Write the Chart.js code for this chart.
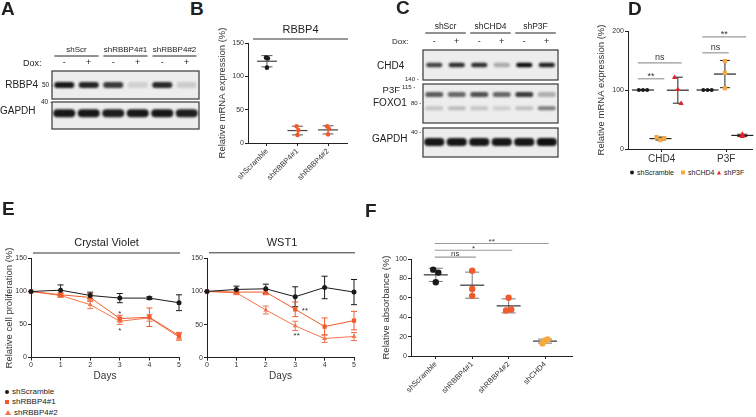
<!DOCTYPE html>
<html>
<head>
<meta charset="utf-8">
<title>RBBP4 / CHD4 figure</title>
<script src="https://cdn.jsdelivr.net/npm/chart.js"></script>
<style>
  body { margin: 0; background: #fff; }
  #fig { position: relative; width: 756px; height: 417px; overflow: hidden; font-family: "Liberation Sans", Arial, sans-serif; color: #222; }
  #fig canvas { position: absolute; }
  .t { position: absolute; white-space: nowrap; line-height: 1.15; }
  .lg { position: absolute; white-space: nowrap; display: flex; align-items: center; line-height: 1; }
  .mk { display: inline-block; margin-right: 3px; }
</style>
</head>
<body>
<div id="fig"></div>
<script>
// ---------- data ----------
// western blots (band darkness per lane, 0..1)
const doxSigns = ["-", "+", "-", "+", "-", "+"];
const blotGroupsA = ["shScr", "shRBBP4#1", "shRBBP4#2"];
const rbbp4Band = [0.95, 0.9, 0.8, 0.12, 0.88, 0.15];
const gapdhBandA = [0.95, 0.95, 0.92, 0.95, 0.95, 0.92];
const blotGroupsC = ["shScr", "shCHD4", "shP3F"];
const chd4Band = [0.75, 0.85, 0.85, 0.3, 1, 0.9];
const p3fBand = [0.65, 0.6, 0.7, 0.6, 0.8, 0.28];
const foxo1Band = [0.18, 0.22, 0.18, 0.14, 0.2, 0.5];
const gapdhBandC = [0.95, 0.95, 0.95, 0.95, 0.95, 0.98];

// B: RBBP4 mRNA
const bCats = ["shScramble", "shRBBP4#1", "shRBBP4#2"];
const bValues = [[128, 127, 113], [25, 19, 12], [25, 21, 13]];
const bTicks = [0, 50, 100, 150];

// D: CHD4 / P3F mRNA
const dCats = ["CHD4", "P3F"];
const dSeries = ["shScramble", "shCHD4", "shP3F"];
const dScramble = [[100, 100, 100], [100, 100, 100]];
const dShCHD4 = [[20, 18, 15], [103, 149, 129]];
const dShP3F = [[121, 77, 101], [25, 23, 21]];
const dTicks = [0, 100, 200];
const dSig = [
  { cat: 0, a: 0, b: 1, y: 119, text: "**" },
  { cat: 0, a: 0, b: 2, y: 146, text: "ns" },
  { cat: 1, a: 0, b: 1, y: 163, text: "ns" },
  { cat: 1, a: 0, b: 2, y: 190, text: "**" },
];

// E: proliferation
const days = [0, 1, 2, 3, 4, 5];
const eTicks = [0, 50, 100, 150];
const eSeries = ["shScramble", "shRBBP4#1", "shRBBP4#2"];
const cvScramble = [100, 102, 94, 90, 90, 83];
const cvScrambleSd = [0, 8, 5, 7, 2, 12];
const cvSh1 = [100, 95, 91, 59, 61, 33];
const cvSh1Sd = [0, 3, 6, 5, 14, 5];
const cvSh2 = [100, 94, 80, 55, 60, 31];
const cvSh2Sd = [0, 3, 6, 5, 5, 5];
const cvStars = [{ x: 3, y: 70, text: "*" }, { x: 3, y: 44, text: "*" }];
const wstScramble = [100, 103, 104, 92, 106, 99];
const wstScrambleSd = [0, 5, 7, 15, 17, 19];
const wstSh1 = [100, 99, 99, 73, 47, 56];
const wstSh1Sd = [0, 3, 4, 11, 13, 14];
const wstSh2 = [100, 98, 72, 48, 29, 32];
const wstSh2Sd = [0, 3, 6, 7, 6, 6];
const wstStars = [{ x: 3.33, y: 74, text: "**" }, { x: 3.05, y: 36, text: "**" }];

// F: absorbance
const fCats = ["shScramble", "shRBBP4#1", "shRBBP4#2", "shCHD4"];
const fValues = [[89, 86, 76], [88, 69, 62], [47, 48, 60], [13, 17, 16]];
const fTicks = [0, 20, 40, 60, 80, 100];
const fSig = [
  { a: 0, b: 1, y: 102, text: "ns" },
  { a: 0, b: 2, y: 109, text: "*" },
  { a: 0, b: 3, y: 116, text: "**" },
];

// ---------- setup ----------
const FONT = '"Liberation Sans", Arial, sans-serif';
const INK = "#222";
const BLACK = "#1a1a1a", ORANGE = "#f15a2b", ORANGE2 = "#f3764d", YELLOW = "#f8a93e", RED = "#e42229";

Chart.defaults.font.family = FONT;
Chart.defaults.font.size = 7;
Chart.defaults.color = "#333";
Chart.defaults.animation = false;
Chart.defaults.plugins.legend.display = false;
Chart.defaults.plugins.tooltip.enabled = false;

const fig = document.getElementById("fig");
const spread = [-1, 1, 0];

// box = canvas [x, y, w, h] on the page, area = wanted chart area on the page
function makeChart(box, area, config) {
  const [x, y, w, h] = box;
  const canvas = document.createElement("canvas");
  canvas.width = w;
  canvas.height = h;
  canvas.style.cssText = `left:${x}px;top:${y}px;width:${w}px;height:${h}px`;
  fig.appendChild(canvas);
  const o = config.options;
  o.responsive = false;
  o.layout = { padding: { left: 0, top: area.t - y, right: x + w - area.r, bottom: 0 } };
  if (o.scales.y.display !== false) o.scales.y.afterFit = (s) => { s.width = area.l - x; };
  else o.layout.padding.left = area.l - x;
  if (o.scales.x.display !== false) o.scales.x.afterFit = (s) => { s.height = y + h - area.b; };
  else o.layout.padding.bottom = y + h - area.b;
  return new Chart(canvas, config);
}

function txt(s, x, y, size, anchor, extra) {
  const d = document.createElement("div");
  d.className = "t";
  d.textContent = s;
  const tx = anchor === "r" ? "-100%" : anchor === "c" ? "-50%" : "0";
  d.style.cssText = `left:${x}px;top:${y}px;font-size:${size}px;transform:translate(${tx},-50%);${extra || ""}`;
  fig.appendChild(d);
}

function marker(shape, color, s) {
  if (shape === "triangle")
    return `<span class="mk" style="width:0;height:0;border-left:${s / 2 + 0.5}px solid transparent;border-right:${s / 2 + 0.5}px solid transparent;border-bottom:${s}px solid ${color}"></span>`;
  const r = shape === "circle" ? "50%" : "0";
  return `<span class="mk" style="width:${s}px;height:${s}px;background:${color};border-radius:${r}"></span>`;
}

function legendItem(x, y, shape, color, label, size, ms) {
  const d = document.createElement("div");
  d.className = "lg";
  d.style.cssText = `left:${x}px;top:${y}px;font-size:${size}px;transform:translateY(-50%)`;
  d.innerHTML = marker(shape, color, ms) + `<span>${label}</span>`;
  fig.appendChild(d);
}

function valueAxis(ticks, title) {
  return {
    type: "linear",
    min: ticks[0],
    max: ticks[ticks.length - 1],
    afterBuildTicks: (s) => { s.ticks = ticks.map((v) => ({ value: v })); },
    border: { color: INK, width: 1 },
    grid: { drawOnChartArea: false, color: INK, tickLength: 3 },
    ticks: { padding: 1, font: { size: 7 } },
    title: { display: !!title, text: title || "", padding: 0, font: { size: 9.5 } },
  };
}

function catAxis(cats, min, max, rot, size) {
  return {
    type: "linear",
    min,
    max,
    afterBuildTicks: (s) => { s.ticks = cats.map((c, i) => ({ value: i })); },
    border: { color: INK, width: 1 },
    grid: { drawOnChartArea: false, color: INK, tickLength: 3 },
    ticks: { autoSkip: false, minRotation: rot, maxRotation: rot, padding: 1, font: { size }, callback: (v) => cats[v] },
  };
}

// ---------- plugins ----------
const blot = {
  id: "blot",
  afterDraw(chart, args, o) {
    const { ctx, chartArea: a, scales: { x, y } } = chart;
    const lane = x.getPixelForValue(1) - x.getPixelForValue(0);
    ctx.save();
    ctx.fillStyle = "#ededed";
    ctx.fillRect(a.left, a.top, a.width, a.height);
    o.bands.forEach((b) => {
      b.values.forEach((v, i) => {
        const cx = x.getPixelForValue(i), cy = y.getPixelForValue(b.row);
        const w = b.width * lane;
        ctx.filter = "blur(1.2px)";
        ctx.fillStyle = `rgba(12,12,12,${v})`;
        ctx.beginPath();
        ctx.roundRect(cx - w / 2, cy - b.height / 2, w, b.height, b.height / 2);
        ctx.fill();
      });
    });
    ctx.filter = "none";
    ctx.strokeStyle = "#454545";
    ctx.lineWidth = 1.3;
    ctx.strokeRect(a.left, a.top, a.width, a.height);
    if (o.header) {
      const hd = o.header;
      ctx.fillStyle = "#222";
      ctx.textAlign = "center";
      ctx.textBaseline = "middle";
      hd.groups.forEach((g, k) => {
        const x1 = x.getPixelForValue(2 * k - 0.4), x2 = x.getPixelForValue(2 * k + 1.4);
        ctx.font = `${hd.groupSize}px ${FONT}`;
        ctx.fillText(g, (x1 + x2) / 2, a.top - hd.groupGap);
        ctx.strokeStyle = "#222";
        ctx.lineWidth = 1;
        ctx.beginPath();
        ctx.moveTo(x1, a.top - hd.lineGap);
        ctx.lineTo(x2, a.top - hd.lineGap);
        ctx.stroke();
      });
      ctx.font = `${hd.signSize}px ${FONT}`;
      hd.signs.forEach((s, i) => ctx.fillText(s, x.getPixelForValue(i), a.top - hd.signGap));
    }
    ctx.restore();
  },
};

const panelTitle = {
  id: "panelTitle",
  afterDraw(chart, args, o) {
    const { ctx, chartArea: a } = chart;
    const x1 = a.left + o.inset, x2 = a.right + 1;
    ctx.save();
    ctx.strokeStyle = "#333";
    ctx.lineWidth = 1;
    ctx.beginPath();
    ctx.moveTo(x1, a.top - o.lineGap);
    ctx.lineTo(x2, a.top - o.lineGap);
    ctx.stroke();
    ctx.fillStyle = "#222";
    ctx.font = `11px ${FONT}`;
    ctx.textAlign = "center";
    ctx.textBaseline = "middle";
    ctx.fillText(o.text, (x1 + x2) / 2, a.top - o.textGap);
    ctx.restore();
  },
};

const meanSd = {
  id: "meanSd",
  beforeDatasetsDraw(chart, args, o) {
    const { ctx, scales: { x, y } } = chart;
    chart.data.datasets.forEach((ds) => {
      if (ds.centre === undefined) return;
      const vals = ds.data.map((p) => p.y);
      const m = vals.reduce((s, v) => s + v, 0) / vals.length;
      const sd = Math.sqrt(vals.reduce((s, v) => s + (v - m) ** 2, 0) / (vals.length - 1));
      const cx = x.getPixelForValue(ds.centre);
      const ym = y.getPixelForValue(m), y1 = y.getPixelForValue(m + sd), y2 = y.getPixelForValue(m - sd);
      ctx.save();
      ctx.strokeStyle = o.barColor;
      ctx.lineWidth = 1;
      ctx.beginPath();
      ctx.moveTo(cx, y1); ctx.lineTo(cx, y2);
      ctx.moveTo(cx - o.cap, y1); ctx.lineTo(cx + o.cap, y1);
      ctx.moveTo(cx - o.cap, y2); ctx.lineTo(cx + o.cap, y2);
      ctx.stroke();
      ctx.strokeStyle = o.meanColor;
      ctx.lineWidth = 1.2;
      ctx.beginPath();
      ctx.moveTo(cx - o.half, ym); ctx.lineTo(cx + o.half, ym);
      ctx.stroke();
      ctx.restore();
    });
  },
};

const sigBars = {
  id: "sigBars",
  afterDraw(chart, args, o) {
    const { ctx, scales: { x, y } } = chart;
    ctx.save();
    o.items.forEach((s) => {
      const x1 = x.getPixelForValue(s.x1), x2 = x.getPixelForValue(s.x2), yy = y.getPixelForValue(s.y);
      ctx.strokeStyle = "#9a9a9a";
      ctx.lineWidth = 1.2;
      ctx.beginPath();
      ctx.moveTo(x1, yy); ctx.lineTo(x2, yy);
      ctx.stroke();
      ctx.fillStyle = "#333";
      ctx.font = `${o.size}px ${FONT}`;
      ctx.textAlign = "center";
      ctx.textBaseline = "alphabetic";
      ctx.fillText(s.text, (x1 + x2) / 2, yy - (s.text.includes("*") ? o.starLift : o.lift));
    });
    ctx.restore();
  },
};

const errorBars = {
  id: "errorBars",
  beforeDatasetsDraw(chart) {
    const { ctx, scales: { y } } = chart;
    chart.data.datasets.forEach((ds, di) => {
      const meta = chart.getDatasetMeta(di);
      ctx.save();
      ctx.strokeStyle = ds.borderColor;
      ctx.lineWidth = 1;
      meta.data.forEach((pt, i) => {
        const e = ds.errors[i];
        if (!e) return;
        const y1 = y.getPixelForValue(ds.data[i] + e), y2 = y.getPixelForValue(ds.data[i] - e);
        ctx.beginPath();
        ctx.moveTo(pt.x, y1); ctx.lineTo(pt.x, y2);
        ctx.moveTo(pt.x - 3, y1); ctx.lineTo(pt.x + 3, y1);
        ctx.moveTo(pt.x - 3, y2); ctx.lineTo(pt.x + 3, y2);
        ctx.stroke();
      });
      ctx.restore();
    });
  },
};

const starMarks = {
  id: "starMarks",
  afterDraw(chart, args, o) {
    const { ctx, scales: { x, y } } = chart;
    ctx.save();
    ctx.fillStyle = "#333";
    ctx.font = `8px ${FONT}`;
    ctx.textAlign = "center";
    ctx.textBaseline = "middle";
    o.items.forEach((m) => ctx.fillText(m.text, x.getPixelForValue(m.x), y.getPixelForValue(m.y) + 2));
    ctx.restore();
  },
};

// ---------- blots ----------
function blotChart(box, area, bands, header) {
  return makeChart(box, area, {
    type: "scatter",
    data: { datasets: [] },
    options: {
      scales: {
        x: { type: "linear", min: -0.5, max: 5.5, display: false },
        y: { type: "linear", min: 0, max: 1, reverse: true, display: false },
      },
      plugins: { blot: { bands, header } },
    },
    plugins: [blot],
  });
}

blotChart([40, 38, 165, 65], { l: 52, t: 71, r: 199, b: 99 },
  [{ values: rbbp4Band, row: 0.5, width: 0.82, height: 6 }],
  { groups: blotGroupsA, signs: doxSigns, groupSize: 8, signSize: 9, groupGap: 21, lineGap: 15, signGap: 8 });
blotChart([45, 100, 160, 32], { l: 52, t: 102, r: 199, b: 129 },
  [{ values: gapdhBandA, row: 0.42, width: 0.9, height: 8 }]);

blotChart([415, 15, 148, 68], { l: 423, t: 50, r: 558, b: 80 },
  [{ values: chd4Band, row: 0.5, width: 0.72, height: 4.5 }],
  { groups: blotGroupsC, signs: doxSigns, groupSize: 8.5, signSize: 9, groupGap: 23, lineGap: 17, signGap: 8 });
blotChart([415, 82, 148, 44], { l: 423, t: 84, r: 558, b: 123 },
  [{ values: p3fBand, row: 0.27, width: 0.8, height: 5 }, { values: foxo1Band, row: 0.62, width: 0.8, height: 4 }]);
blotChart([415, 126, 148, 34], { l: 423, t: 128, r: 558, b: 157 },
  [{ values: gapdhBandC, row: 0.48, width: 0.9, height: 8 }]);

// ---------- B ----------
makeChart([217, 20, 143, 165], { l: 248, t: 43, r: 347, b: 143 }, {
  type: "scatter",
  data: {
    datasets: bValues.map((vals, i) => ({
      data: vals.map((v, k) => ({ x: i + spread[k] * 0.03, y: v })),
      centre: i,
      backgroundColor: i ? ORANGE : BLACK,
      pointRadius: 2.3,
      pointBorderWidth: 0,
    })),
  },
  options: {
    scales: { x: catAxis(bCats, -0.62, 2.62, 45, 7.5), y: valueAxis(bTicks, "Relative mRNA expression (%)") },
    plugins: {
      meanSd: { barColor: "#555", meanColor: "#444", cap: 5.5, half: 10 },
      panelTitle: { text: "RBBP4", inset: 5, lineGap: 4, textGap: 13 },
    },
  },
  plugins: [meanSd, panelTitle],
});

// ---------- D ----------
const dOffset = [-0.29, -0.02, 0.25];
const dStyle = [
  { values: dScramble, color: BLACK, style: "circle", r: 2, s: 0.065 },
  { values: dShCHD4, color: YELLOW, style: "rect", r: 3, s: 0.06 },
  { values: dShP3F, color: RED, style: "triangle", r: 3, s: 0.05 },
];
const dSets = [];
dStyle.forEach((st, si) => {
  dCats.forEach((c, ci) => {
    const cx = ci + dOffset[si];
    dSets.push({
      label: dSeries[si],
      data: st.values[ci].map((v, k) => ({ x: cx + spread[k] * (si === 0 ? st.s : ci === 0 ? st.s : 0), y: v })),
      centre: cx,
      backgroundColor: st.color,
      pointStyle: st.style,
      pointRadius: st.r,
      pointBorderWidth: 0,
    });
  });
});
makeChart([596, 20, 160, 147], { l: 628, t: 31, r: 753, b: 149 }, {
  type: "scatter",
  data: { datasets: dSets },
  options: {
    scales: { x: catAxis(dCats, -0.523, 1.4, 0, 10), y: valueAxis(dTicks, "Relative mRNA expression (%)") },
    plugins: {
      meanSd: { barColor: "#222", meanColor: "#222", cap: 5, half: 11 },
      sigBars: {
        size: 9, lift: 3, starLift: 0,
        items: dSig.map((s) => ({ x1: s.cat + dOffset[s.a] - 0.08, x2: s.cat + dOffset[s.b] + 0.06, y: s.y, text: s.text })),
      },
    },
  },
  plugins: [meanSd, sigBars],
});
legendItem(630, 172, "circle", BLACK, "shScramble", 7, 4);
legendItem(681, 172, "square", YELLOW, "shCHD4", 7, 4);
legendItem(717, 172, "triangle", RED, "shP3F", 7, 4);

// ---------- E ----------
function lineSet(label, vals, sds, color, style, r) {
  return {
    label, data: vals, errors: sds,
    borderColor: color, backgroundColor: color,
    pointStyle: style, pointRadius: r, pointBorderWidth: 0, borderWidth: 1, tension: 0,
  };
}
function dayAxis() {
  return {
    type: "category",
    offset: false,
    border: { color: INK, width: 1 },
    grid: { drawOnChartArea: false, color: INK, tickLength: 3 },
    ticks: { padding: 0, font: { size: 7 } },
    title: { display: true, text: "Days", padding: { top: 0, bottom: 3 }, font: { size: 10 } },
  };
}
makeChart([4, 235, 185, 150], { l: 31, t: 258.5, r: 179, b: 357.5 }, {
  type: "line",
  data: {
    labels: days,
    datasets: [
      lineSet(eSeries[0], cvScramble, cvScrambleSd, BLACK, "circle", 2.5),
      lineSet(eSeries[1], cvSh1, cvSh1Sd, ORANGE, "rect", 3),
      lineSet(eSeries[2], cvSh2, cvSh2Sd, ORANGE2, "triangle", 2.8),
    ],
  },
  options: {
    scales: { x: dayAxis(), y: valueAxis(eTicks, "Relative cell proliferation (%)") },
    plugins: {
      panelTitle: { text: "Crystal Violet", inset: 2, lineGap: 5.5, textGap: 15.5 },
      starMarks: { items: cvStars },
    },
  },
  plugins: [errorBars, panelTitle, starMarks],
});
makeChart([185, 235, 180, 150], { l: 207, t: 258.3, r: 354, b: 357.7 }, {
  type: "line",
  data: {
    labels: days,
    datasets: [
      lineSet(eSeries[0], wstScramble, wstScrambleSd, BLACK, "circle", 2.5),
      lineSet(eSeries[1], wstSh1, wstSh1Sd, ORANGE, "rect", 3),
      lineSet(eSeries[2], wstSh2, wstSh2Sd, ORANGE2, "triangle", 2.8),
    ],
  },
  options: {
    scales: { x: dayAxis(), y: valueAxis(eTicks) },
    plugins: {
      panelTitle: { text: "WST1", inset: 2, lineGap: 5.5, textGap: 15.5 },
      starMarks: { items: wstStars },
    },
  },
  plugins: [errorBars, panelTitle, starMarks],
});
legendItem(5, 392, "circle", BLACK, eSeries[0], 8, 4);
legendItem(5, 402, "square", ORANGE, eSeries[1], 8, 4);
legendItem(5, 412.5, "triangle", ORANGE2, eSeries[2], 8, 5);

// ---------- F ----------
const fColors = [BLACK, ORANGE, ORANGE, YELLOW];
makeChart([381, 228, 195, 189], { l: 411, t: 259, r: 573, b: 356 }, {
  type: "scatter",
  data: {
    datasets: fValues.map((vals, i) => ({
      data: vals.map((v, k) => ({ x: i + spread[k] * (i === 1 ? 0 : 0.07), y: v })),
      centre: i,
      backgroundColor: fColors[i],
      pointRadius: 3.2,
      pointBorderWidth: 0,
    })),
  },
  options: {
    scales: { x: catAxis(fCats, -0.68, 3.74, 45, 7.5), y: valueAxis(fTicks, "Relative absorbance (%)") },
    plugins: {
      meanSd: { barColor: "#777", meanColor: "#333", cap: 7, half: 12 },
      sigBars: {
        size: 8, lift: 1, starLift: -0.5,
        items: fSig.map((s) => ({ x1: s.a - 0.03, x2: s.b + 0.1, y: s.y, text: s.text })),
      },
    },
  },
  plugins: [meanSd, sigBars],
});

// ---------- blot labels and panel letters ----------
txt("Dox:", 23, 63, 9);
txt("RBBP4", 38, 85, 10, "r");
txt("50 -", 42, 85, 6.5);
txt("40 -", 41, 102, 6.5);
txt("GAPDH", 0, 111, 10);
txt("Dox:", 392, 42, 8);
txt("CHD4", 377, 66, 10);
txt("140 -", 405, 79, 6);
txt("P3F", 400, 90, 9.5, "r");
txt("115 -", 402, 87, 6);
txt("FOXO1", 373, 103, 10);
txt("80 -", 411, 103, 6);
txt("40 -", 411, 132, 6);
txt("GAPDH", 372, 139, 10);

const bold = "font-weight:bold";
txt("A", 1, 9, 19, "l", bold);
txt("B", 190, 9, 19, "l", bold);
txt("C", 396, 8, 19, "l", bold);
txt("D", 628, 9, 19, "l", bold);
txt("E", 2, 209, 19, "l", bold);
txt("F", 365, 211, 19, "l", bold);
</script>
</body>
</html>
